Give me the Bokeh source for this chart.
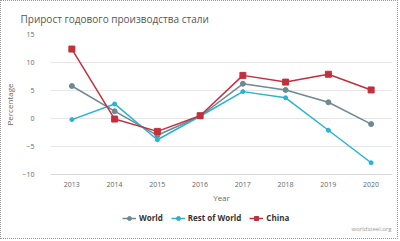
from bokeh.plotting import figure
from bokeh.layouts import column
from bokeh.models import Legend, LegendItem, Label, FixedTicker
from bokeh.embed import file_html
from bokeh.resources import INLINE

years = ["2013", "2014", "2015", "2016", "2017", "2018", "2019", "2020"]
world = [5.8, 1.3, -3.0, 0.4, 6.2, 5.1, 2.9, -1.0]
rest_of_world = [-0.2, 2.6, -3.8, 0.4, 4.8, 3.7, -2.1, -7.9]
china = [12.4, -0.1, -2.3, 0.5, 7.7, 6.5, 7.9, 5.1]
y_ticks = [-10, -5, 0, 5, 10, 15]
series_names = ["World", "Rest of World", "China"]

FONT = "Open Sans"
c_world = "#6e8894"
c_row = "#27b4d0"
c_china = "#c1303c"

# ---------------- main chart ----------------
p = figure(x_range=years, y_range=(-10, 15), width=396, height=204,
           output_backend="svg", toolbar_location=None,
           min_border_left=39, min_border_right=5, min_border_top=33, min_border_bottom=31,
           title="Прирост годового производства стали")
p.outline_line_color = None
p.background_fill_color = "white"
p.border_fill_color = "white"

p.title.text_font = FONT
p.title.text_font_size = "10px"
p.title.text_font_style = "normal"
p.title.text_color = "#555555"
p.title.offset = -30
p.title.standoff = 17

p.yaxis.ticker = FixedTicker(ticks=y_ticks)
p.yaxis.axis_line_color = None
p.yaxis.major_tick_line_color = None
p.yaxis.minor_tick_line_color = None
p.yaxis.major_label_standoff = 10
p.yaxis.major_label_text_font = FONT
p.yaxis.major_label_text_font_size = "7px"
p.yaxis.major_label_text_color = "#666666"
p.yaxis.axis_label = "Percentage"
p.yaxis.axis_label_text_font = FONT
p.yaxis.axis_label_text_font_size = "8px"
p.yaxis.axis_label_text_font_style = "normal"
p.yaxis.axis_label_text_color = "#666666"
p.yaxis.axis_label_standoff = 4

p.xaxis.axis_line_color = "#d8d8d8"
p.xaxis.major_tick_line_color = None
p.xaxis.minor_tick_line_color = None
p.xaxis.major_tick_out = 0
p.xaxis.major_label_standoff = 7
p.xaxis.major_label_text_font = FONT
p.xaxis.major_label_text_font_size = "7px"
p.xaxis.major_label_text_color = "#666666"
p.xaxis.axis_label = "Year"
p.xaxis.axis_label_text_font = FONT
p.xaxis.axis_label_text_font_size = "8px"
p.xaxis.axis_label_text_font_style = "normal"
p.xaxis.axis_label_text_color = "#666666"
p.xaxis.axis_label_standoff = 2

p.xgrid.grid_line_color = None
p.ygrid.grid_line_color = "#e6e6e6"

p.line(years, world, line_color=c_world, line_width=1.5)
p.scatter(years, world, marker="circle", size=5, fill_color=c_world, line_color=c_world)
p.line(years, rest_of_world, line_color=c_row, line_width=1.5)
p.scatter(years, rest_of_world, marker="circle", size=4, fill_color=c_row, line_color=c_row)
p.line(years, china, line_color=c_china, line_width=1.5)
p.scatter(years, china, marker="square", size=6, fill_color=c_china, line_color=c_china)

# ---------------- legend strip ----------------
lf = figure(x_range=years, y_range=(100, 101), width=396, height=33,
            output_backend="svg", toolbar_location=None,
            min_border_left=0, min_border_right=0, min_border_top=0, min_border_bottom=0,
            x_axis_location=None, y_axis_location=None)
lf.outline_line_color = None
lf.xgrid.grid_line_color = None
lf.ygrid.grid_line_color = None
lf.background_fill_color = "white"
lf.border_fill_color = "white"

# same series drawn outside this strip's range: only their legend glyphs show
r1 = [lf.line(years, world, line_color=c_world, line_width=1.5),
      lf.scatter(years, world, marker="circle", size=5, fill_color=c_world, line_color=c_world)]
r2 = [lf.line(years, rest_of_world, line_color=c_row, line_width=1.5),
      lf.scatter(years, rest_of_world, marker="circle", size=4, fill_color=c_row, line_color=c_row)]
r3 = [lf.line(years, china, line_color=c_china, line_width=1.5),
      lf.scatter(years, china, marker="square", size=6, fill_color=c_china, line_color=c_china)]

legend = Legend(items=[
    LegendItem(label=series_names[0], renderers=r1),
    LegendItem(label=series_names[1], renderers=r2),
    LegendItem(label=series_names[2], renderers=r3),
], orientation="horizontal", location=(72, 15))
legend.label_text_font = FONT
legend.label_text_font_size = "8px"
legend.label_text_font_style = "bold"
legend.label_text_color = "#333333"
legend.glyph_width = 14
legend.glyph_height = 10
legend.label_height = 10
legend.label_standoff = 3
legend.spacing = 8
legend.padding = 0
legend.margin = 0
legend.border_line_color = None
legend.background_fill_alpha = 0
lf.add_layout(legend, "center")

src = Label(x=301, y=6, x_units="screen", y_units="screen", text="worldsteel.org",
            text_font=FONT, text_font_size="6px", text_color="#999999")
lf.add_layout(src)

layout = column(p, lf, spacing=0)
layout.styles = {"border": "1px dotted #999999"}

open("out.html", "w").write(file_html(layout, INLINE))
